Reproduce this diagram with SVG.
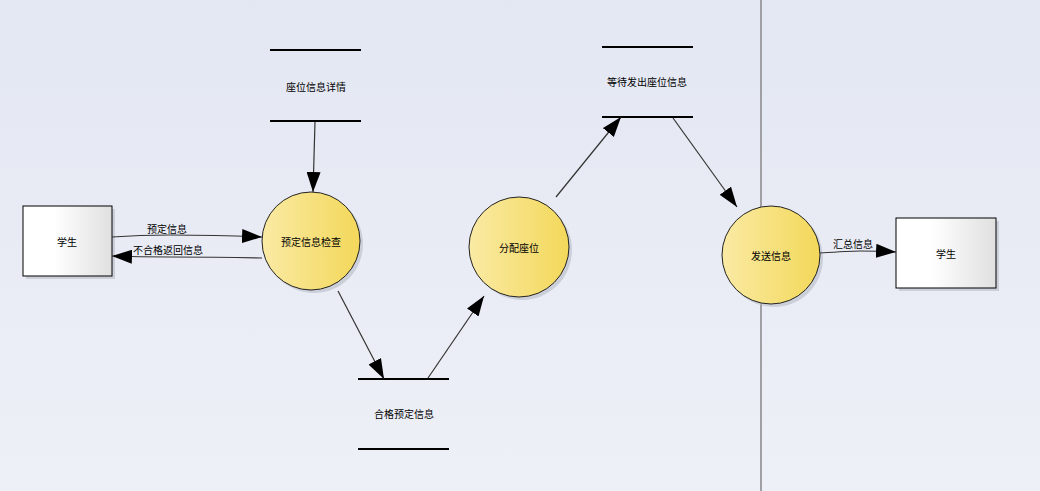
<svg xmlns="http://www.w3.org/2000/svg" width="1040" height="491" viewBox="0 0 1040 491">
<defs>
<linearGradient id="bg" x1="0" y1="0" x2="0" y2="1">
<stop offset="0" stop-color="#e3e7f2"/>
<stop offset="1" stop-color="#eef0f7"/>
</linearGradient>
<linearGradient id="proc" x1="0" y1="0" x2="1" y2="0">
<stop offset="0" stop-color="#faeaa4"/>
<stop offset="1" stop-color="#f3d85a"/>
</linearGradient>
<linearGradient id="ent" x1="0" y1="0" x2="1" y2="0">
<stop offset="0.35" stop-color="#ffffff"/>
<stop offset="1" stop-color="#e0e0e0"/>
</linearGradient>
<marker id="arr" viewBox="0 0 20 14" refX="20" refY="7" markerWidth="20" markerHeight="14" markerUnits="userSpaceOnUse" orient="auto">
<path d="M0,0 L20,7 L0,14 Z" fill="#000"/>
</marker>
</defs>
<style>
text{font-family:"Noto Sans CJK SC","Noto Sans",sans-serif;font-size:10px;fill:#000;text-anchor:middle;dominant-baseline:central}
.proc{fill:url(#proc);stroke:#222;stroke-width:1}
.shadow{fill:#b8bcc6;opacity:0.6}
.ent{fill:url(#ent);stroke:#000;stroke-width:1}
.store{stroke:#000;stroke-width:2}
.conn{fill:none;stroke:#333;stroke-width:1.2}
</style>
<rect x="0" y="0" width="1040" height="491" fill="url(#bg)"/>
<line x1="761" y1="0" x2="761" y2="491" stroke="#a0a0a4" stroke-width="2"/>

<g id="student1">
<rect x="26" y="209" width="89" height="70" class="shadow"/>
<rect x="23" y="206" width="89" height="70" class="ent"/>
<text x="67" y="241">学生</text>
</g>

<g id="student2">
<rect x="899" y="221" width="100" height="70" class="shadow"/>
<rect x="896" y="218" width="100" height="70" class="ent"/>
<text x="946" y="253">学生</text>
</g>

<g id="p1">
<circle cx="314" cy="244" r="49" class="shadow"/>
<circle cx="311" cy="241" r="49" class="proc"/>
<text x="311" y="241">预定信息检查</text>
</g>

<g id="p2">
<circle cx="522" cy="250" r="50" class="shadow"/>
<circle cx="519" cy="247" r="50" class="proc"/>
<text x="519" y="247">分配座位</text>
</g>

<g id="p3">
<circle cx="774" cy="258" r="49" class="shadow"/>
<circle cx="771" cy="255" r="49" class="proc"/>
<text x="771" y="255">发送信息</text>
</g>

<g id="store1">
<line x1="270" y1="50" x2="361" y2="50" class="store"/>
<line x1="270" y1="121" x2="361" y2="121" class="store"/>
<text x="316" y="86">座位信息详情</text>
</g>

<g id="store2">
<line x1="602" y1="47" x2="693" y2="47" class="store"/>
<line x1="602" y1="117" x2="693" y2="117" class="store"/>
<text x="647" y="81">等待发出座位信息</text>
</g>

<g id="store3">
<line x1="358" y1="379" x2="449" y2="379" class="store"/>
<line x1="358" y1="449" x2="449" y2="449" class="store"/>
<text x="404" y="413">合格预定信息</text>
</g>

<g id="connectors">
<path d="M112,237 Q140,235 170,235 Q220,235 262,237" class="conn" marker-end="url(#arr)"/>
<text x="167" y="228">预定信息</text>
<path d="M262,258 Q220,257 170,257 Q140,257 112,256" class="conn" marker-end="url(#arr)"/>
<text x="168" y="249">不合格返回信息</text>
<path d="M315,122 L313,192" class="conn" marker-end="url(#arr)"/>
<path d="M338,291 L384,379" class="conn" marker-end="url(#arr)"/>
<path d="M428,378 L484,296" class="conn" marker-end="url(#arr)"/>
<path d="M556,197 L621,117" class="conn" marker-end="url(#arr)"/>
<path d="M673,118 L737,207" class="conn" marker-end="url(#arr)"/>
<path d="M820,253 Q850,251 860,251 Q880,251 896,252" class="conn" marker-end="url(#arr)"/>
<text x="853" y="243">汇总信息</text>
</g>
</svg>
